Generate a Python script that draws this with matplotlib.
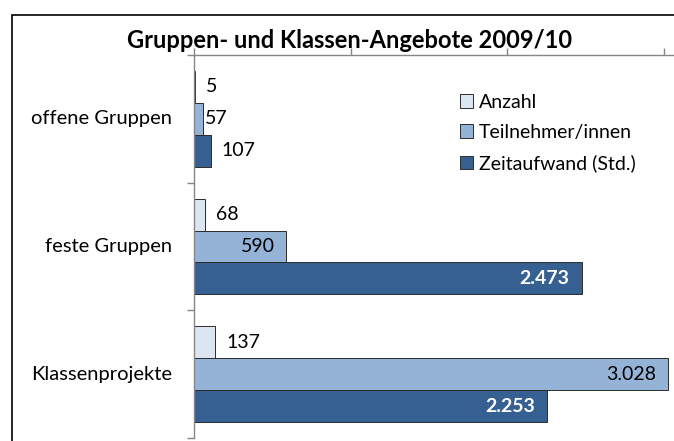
import matplotlib
matplotlib.use("Agg")
import matplotlib.pyplot as plt
import numpy as np
from matplotlib.patches import Rectangle, Patch

plt.rcParams['font.family'] = ['Lato', 'DejaVu Sans']

categories = ['offene Gruppen', 'feste Gruppen', 'Klassenprojekte']
series_names = ['Anzahl', 'Teilnehmer/innen', 'Zeitaufwand (Std.)']
anzahl = [5, 68, 137]
teilnehmer = [57, 590, 3028]
zeitaufwand = [107, 2473, 2253]
colors = ['#dce6f2', '#95b3d7', '#366092']

W, H = 674, 441
fig = plt.figure(figsize=(W / 100, H / 100), dpi=100)

# chart frame (cut off at right and bottom like the screenshot)
fig.patches.append(Rectangle((12 / W, -0.1), 1.0, (H - 15) / H + 0.1, transform=fig.transFigure,
                             fill=False, edgecolor='black', linewidth=1.2))

# axes: x=0 at 194px, 1000 units = 156.7px, top at 55px, bottom at 438px
px_per_unit = 0.1567
xmax = 3500
ax = fig.add_axes([194 / W, 3 / H, xmax * px_per_unit / W, (438 - 55) / H])
ax.set_facecolor('none')

y = np.arange(len(categories))
h = 0.25
px = 1 / px_per_unit  # data units per pixel
series = [anzahl, teilnehmer, zeitaufwand]
for i, (vals, name, c) in enumerate(zip(series, series_names, colors)):
    bars = ax.barh(y + (i - 1) * h, vals, height=h, color=c, edgecolor='#2b2b2b',
                   linewidth=0.7, label=name)
    for b, v in zip(bars, vals):
        txt = f"{v:,}".replace(",", ".")
        yc = b.get_y() + b.get_height() / 2
        if v > 2000 and i == 2:
            ax.text(v - 12 * px, yc, txt, ha='right', va='center', color='white',
                    fontsize=14, fontweight='bold')
        elif v > 500:
            ax.text(v - 12 * px, yc, txt, ha='right', va='center', color='black', fontsize=14)
        else:
            off = 2 if v == 57 else 11
            ax.text(v + off * px, yc, txt, ha='left', va='center', color='black', fontsize=14)

ax.set_xlim(0, xmax)
ax.set_ylim(2.5, -0.5)
ax.xaxis.tick_top()
ax.set_xticks([0, 1000, 2000, 3000])
ax.set_xticklabels([])
ax.set_yticks([-0.5, 0.5, 1.5, 2.5])
ax.set_yticklabels([])
ax.tick_params(axis='both', direction='out', length=5, color='#868686', width=1)
for s in ['right', 'bottom']:
    ax.spines[s].set_visible(False)
for s in ['left', 'top']:
    ax.spines[s].set_color('#868686')
    ax.spines[s].set_linewidth(1)

for yi, cat in zip(y, categories):
    ax.text(-22 * px, yi, cat, ha='right', va='center', fontsize=14.5)

fig.text(350 / W, 1 - 40 / H, 'Gruppen- und Klassen-Angebote 2009/10', ha='center', va='center',
         fontsize=17, fontweight='bold')

handles = [Patch(facecolor=c, edgecolor='#2b2b2b', linewidth=0.7) for c in colors]
fig.legend(handles, series_names, loc='upper left', bbox_to_anchor=(452 / W, 1 - 86 / H),
           frameon=False, fontsize=14, handlelength=0.7, handleheight=0.7,
           handletextpad=0.3, labelspacing=0.68, borderaxespad=0)

fig.savefig('out.png', dpi=100)
